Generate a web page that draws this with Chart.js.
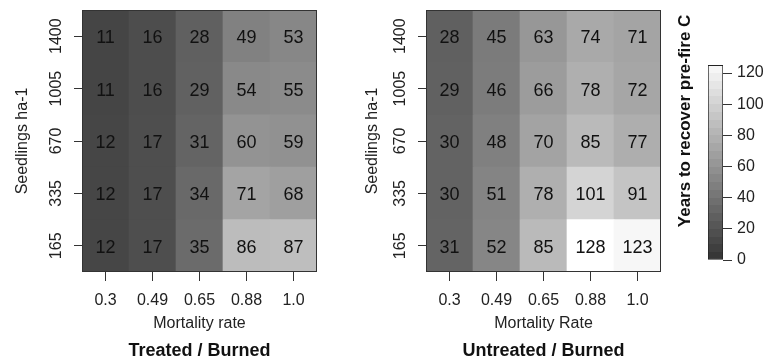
<!DOCTYPE html>
<html>
<head>
<meta charset="utf-8">
<script src="https://cdn.jsdelivr.net/npm/chart.js@4.4.1/dist/chart.umd.min.js"></script>
<style>
    html, body { margin: 0; padding: 0; background: #fff; }
    body { position: relative; width: 772px; height: 363px; overflow: hidden; }
    canvas { position: absolute; top: 0; }
</style>
</head>
<body>
<canvas id="treatedChart" width="340" height="363" style="left:0px"></canvas>
<canvas id="untreatedChart" width="326" height="363" style="left:344px"></canvas>
<canvas id="legendChart" width="102" height="363" style="left:670px"></canvas>
<script>
var mortality = ['0.3', '0.49', '0.65', '0.88', '1.0'];
var seedlings = ['165', '335', '670', '1005', '1400'];   // bottom row first

// years to recover pre-fire C, one row per seedling density (165 first)
var treatedYears = [
    [12, 17, 35, 86, 87],
    [12, 17, 34, 71, 68],
    [12, 17, 31, 60, 59],
    [11, 16, 29, 54, 55],
    [11, 16, 28, 49, 53]
];
var untreatedYears = [
    [31, 52, 85, 128, 123],
    [30, 51, 78, 101, 91],
    [30, 48, 70, 85, 77],
    [29, 46, 66, 78, 72],
    [28, 45, 63, 74, 71]
];
var legendTicks = [0, 20, 40, 60, 80, 100, 120];
var legendMax = 125;

var FONT = "'Liberation Sans', Arial, sans-serif";
var TEXT = '#222';

function grayFor(v) {
    var g = Math.round(51 + 204 * Math.min(v, 128) / 128);
    return 'rgb(' + g + ',' + g + ',' + g + ')';
}

// numbers in the cells + frame around the plot
var cellLabels = {
    id: 'cellLabels',
    afterDatasetsDraw: function (chart) {
        var ctx = chart.ctx;
        ctx.save();
        ctx.font = '18px ' + FONT;
        ctx.fillStyle = '#111';
        ctx.textAlign = 'center';
        ctx.textBaseline = 'middle';
        chart.data.datasets.forEach(function (ds, r) {
            chart.getDatasetMeta(r).data.forEach(function (bar, c) {
                var p = bar.getProps(['x', 'y', 'base'], true);
                ctx.fillText(String(ds.years[c]), p.x, (p.y + p.base) / 2 + 2);
            });
        });
        var a = chart.chartArea;
        ctx.strokeStyle = '#333';
        ctx.lineWidth = 1;
        ctx.strokeRect(Math.round(a.left) + 0.5, Math.round(a.top) + 0.5,
            Math.round(a.right - a.left) - 1, Math.round(a.bottom - a.top) - 1);
        ctx.restore();
    }
};

function makePanel(canvasId, years, xTitle, panelTitle, rightPad, yTitlePad) {
    var datasets = years.map(function (row, r) {
        return {
            data: mortality.map(function () { return [r - 0.5, r + 0.5]; }),
            years: row,
            backgroundColor: row.map(grayFor),
            borderWidth: 0,
            barPercentage: 1,
            categoryPercentage: 1,
            grouped: false
        };
    });

    new Chart(document.getElementById(canvasId), {
        type: 'bar',
        data: { labels: mortality, datasets: datasets },
        options: {
            responsive: false,
            animation: false,
            layout: { padding: { top: 10, right: rightPad, bottom: 0, left: 0 } },
            plugins: {
                legend: { display: false },
                tooltip: { enabled: false },
                title: {
                    display: true,
                    text: panelTitle,
                    position: 'bottom',
                    fullSize: false,
                    color: '#111',
                    font: { family: FONT, size: 18, weight: 'bold' },
                    padding: { top: 0, bottom: 1 }
                }
            },
            scales: {
                x: {
                    type: 'category',
                    grid: { offset: false, drawOnChartArea: false, tickLength: 9, tickColor: '#333' },
                    border: { display: false },
                    ticks: { color: TEXT, font: { family: FONT, size: 16 }, padding: 10, maxRotation: 0 },
                    title: {
                        display: true, text: xTitle, color: TEXT,
                        font: { family: FONT, size: 16 },
                        padding: { top: 0, bottom: 7 }
                    },
                    afterFit: function (s) { s.height = 68.4; }
                },
                y: {
                    type: 'linear',
                    min: -0.5,
                    max: 4.5,
                    afterBuildTicks: function (s) {
                        s.ticks = seedlings.map(function (_, i) { return { value: i }; });
                    },
                    grid: { drawOnChartArea: false, tickLength: 8, tickColor: '#333' },
                    border: { display: false },
                    ticks: {
                        callback: function (v) { return seedlings[v]; },
                        minRotation: 90, maxRotation: 90,
                        crossAlign: 'center',
                        padding: 0,
                        color: TEXT,
                        font: { family: FONT, size: 16 }
                    },
                    title: {
                        display: true, text: 'Seedlings ha-1', color: TEXT,
                        font: { family: FONT, size: 16 },
                        padding: { top: yTitlePad, bottom: 0 }
                    },
                    afterFit: function (s) { s.width = 82; }
                }
            }
        },
        plugins: [cellLabels]
    });
}

makePanel('treatedChart', treatedYears, 'Mortality rate', 'Treated / Burned', 23, 13.4);
makePanel('untreatedChart', untreatedYears, 'Mortality Rate', 'Untreated / Burned', 9, 19.4);

// colour key: stepped grey ramp
function keyFill(c) {
    var chart = c.chart;
    var s = chart.scales.yTicks;
    if (!s) return grayFor(60);
    var y0 = s.getPixelForValue(0), y1 = s.getPixelForValue(legendMax);
    if (!isFinite(y0) || !isFinite(y1) || y0 === y1) return grayFor(60);
    var g = chart.ctx.createLinearGradient(0, y0, 0, y1);
    var steps = 25;
    for (var k = 0; k < steps; k++) {
        var col = grayFor((k + 0.5) * legendMax / steps);
        g.addColorStop(k / steps, col);
        g.addColorStop((k + 1) / steps, col);
    }
    return g;
}

var keyChart = new Chart(document.getElementById('legendChart'), {
    type: 'bar',
    data: {
        labels: [''],
        datasets: [{
            data: [[0, legendMax]],
            yAxisID: 'yTicks',
            backgroundColor: keyFill,
            borderColor: '#222',
            borderWidth: 1,
            borderSkipped: false,
            barPercentage: 1,
            categoryPercentage: 1
        }]
    },
    options: {
        responsive: false,
        animation: false,
        layout: { padding: { top: 8, bottom: 103, left: 0, right: 0 } },
        plugins: { legend: { display: false }, tooltip: { enabled: false } },
        scales: {
            x: { display: false },
            yTitle: {
                position: 'left',
                min: 0, max: 157.5,
                grid: { display: false },
                border: { display: false },
                ticks: { display: false },
                title: {
                    display: true,
                    text: 'Years to recover pre-fire C',
                    align: 'end',
                    color: '#111',
                    font: { family: FONT, size: 17, weight: 'bold' },
                    padding: { top: 5, bottom: 0 }
                },
                afterFit: function (s) { s.width = 38; }
            },
            yTicks: {
                position: 'right',
                min: 0, max: 157.5,
                afterBuildTicks: function (s) {
                    s.ticks = legendTicks.map(function (v) { return { value: v }; });
                },
                grid: { drawOnChartArea: false, tickLength: 9, tickColor: '#333' },
                border: { display: false },
                ticks: { color: TEXT, padding: 5, font: { family: FONT, size: 16 } },
                afterFit: function (s) { s.width = 49; }
            }
        }
    }
});
keyChart.update();
</script>
</body>
</html>
